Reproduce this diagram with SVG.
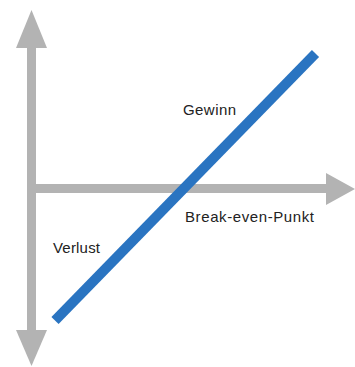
<svg xmlns="http://www.w3.org/2000/svg" width="355" height="367" viewBox="0 0 355 367">
<style>
.axis{fill:none;stroke:#b3b3b3;stroke-width:9}
.head{fill:#b3b3b3}
.line{fill:none;stroke:#2a74c1;stroke-width:10;stroke-linecap:butt}
.lbl{font-family:"Liberation Sans",Arial,sans-serif;font-size:15px;fill:#222}
</style>
<g id="axes">
<line class="axis" x1="31.5" y1="46" x2="31.5" y2="332"/>
<line class="axis" x1="31.5" y1="188.5" x2="328" y2="188.5"/>
<polygon class="head" points="31.5,10 47,48 16,48"/>
<polygon class="head" points="31.5,366 47,330 16,330"/>
<polygon class="head" points="355,189 326,173 326,205"/>
</g>
<g id="profit-line">
<line class="line" x1="55" y1="320.5" x2="315.5" y2="53.5"/>
</g>
<g id="labels">
<text class="lbl" x="183" y="115" textLength="53">Gewinn</text>
<text class="lbl" x="185" y="222" textLength="129">Break-even-Punkt</text>
<text class="lbl" x="53" y="253" textLength="47">Verlust</text>
</g>
</svg>
